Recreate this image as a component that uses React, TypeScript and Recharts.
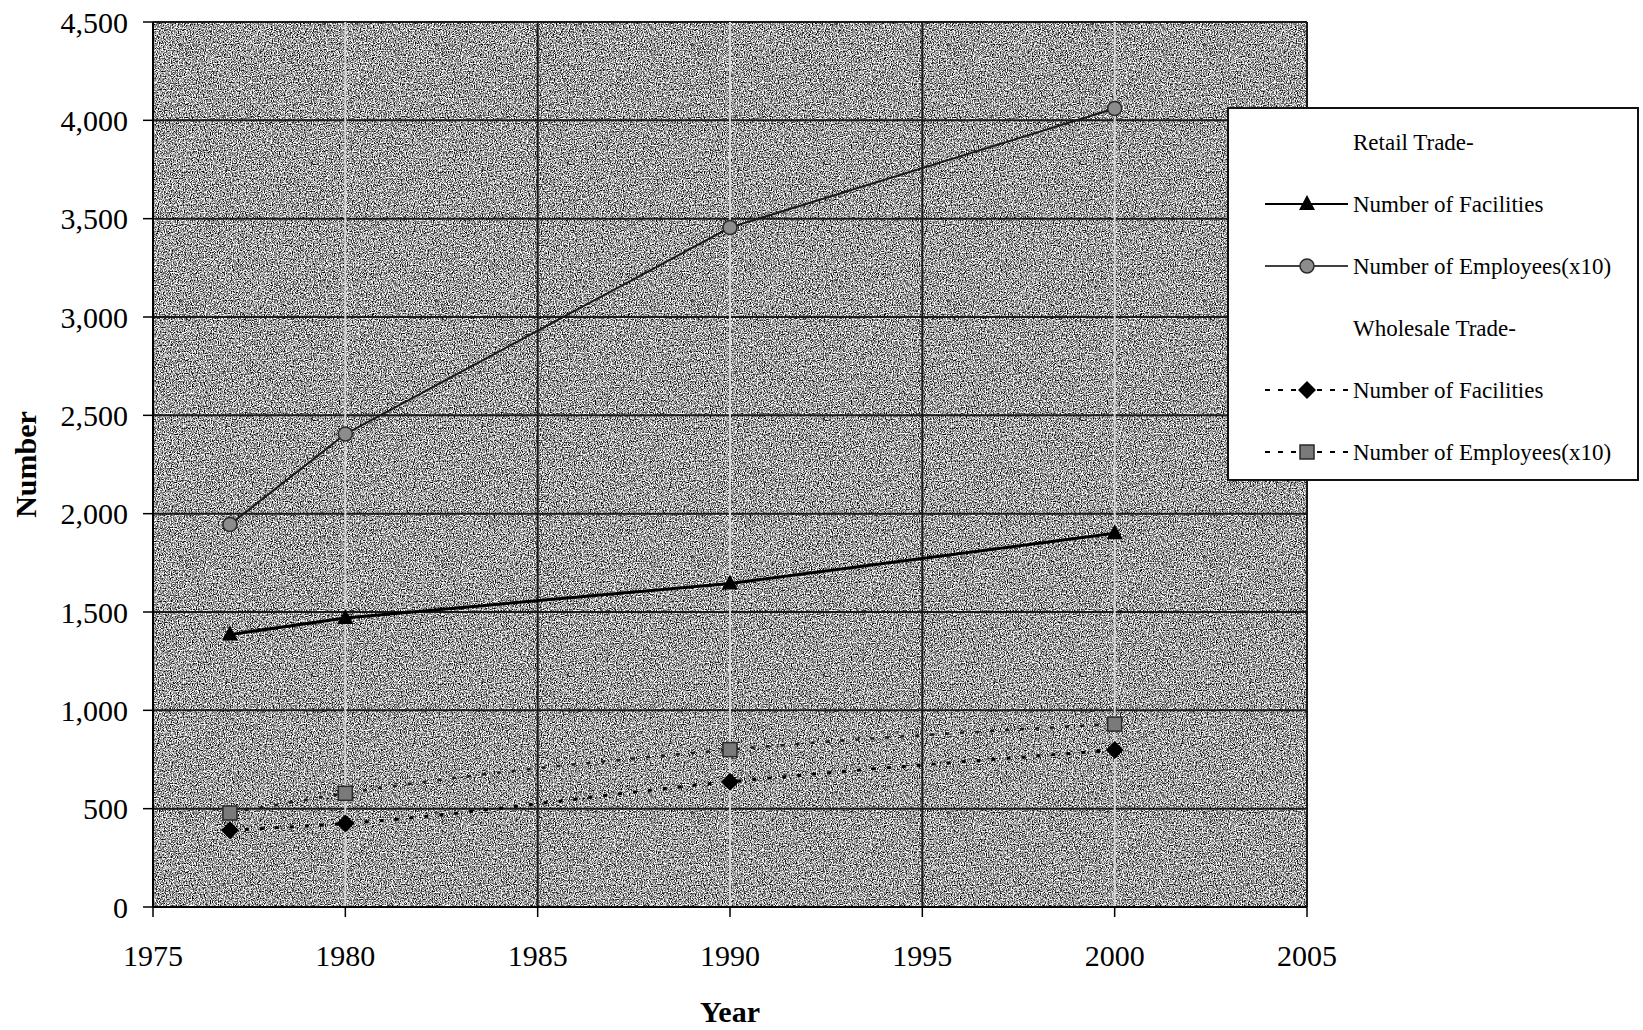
import React from "react";
import {
  LineChart,
  Line,
  XAxis,
  YAxis,
  CartesianGrid,
  ReferenceLine,
  Label,
} from "recharts";

const YEARS = [1977, 1980, 1990, 2000];
const RETAIL_FACILITIES = [1385, 1470, 1645, 1900];
const RETAIL_EMPLOYEES = [1945, 2405, 3455, 4060];
const WHOLESALE_FACILITIES = [390, 425, 637, 798];
const WHOLESALE_EMPLOYEES = [478, 578, 800, 930];

const YEAR_TICKS = [1975, 1980, 1985, 1990, 1995, 2000, 2005];
const VALUE_TICKS = [0, 500, 1000, 1500, 2000, 2500, 3000, 3500, 4000, 4500];

const rows = YEARS.map((year, i) => ({
  year,
  retailFac: RETAIL_FACILITIES[i],
  retailEmp: RETAIL_EMPLOYEES[i],
  wholeFac: WHOLESALE_FACILITIES[i],
  wholeEmp: WHOLESALE_EMPLOYEES[i],
}));

const FONT = "'Liberation Serif', 'Times New Roman', serif";

// marker shapes, shared by the lines and the legend
const triangle = (cx: number, cy: number, key?: string) => (
  <polygon key={key} points={`${cx},${cy - 9} ${cx - 8},${cy + 6} ${cx + 8},${cy + 6}`} fill="#000" />
);
const circle = (cx: number, cy: number, key?: string) => (
  <circle key={key} cx={cx} cy={cy} r={7} fill="#8c8c8c" stroke="#2a2a2a" strokeWidth={1.5} />
);
const diamond = (cx: number, cy: number, key?: string) => (
  <polygon key={key} points={`${cx},${cy - 9} ${cx + 9},${cy} ${cx},${cy + 9} ${cx - 9},${cy}`} fill="#000" />
);
const square = (cx: number, cy: number, key?: string) => (
  <rect key={key} x={cx - 7} y={cy - 7} width={14} height={14} fill="#7a7a7a" stroke="#2a2a2a" strokeWidth={1.5} />
);

const dotOf = (shape: (cx: number, cy: number, key?: string) => React.ReactElement) => (p: any) =>
  p.cx == null ? <g key={p.key} /> : shape(p.cx, p.cy, p.key ?? `${p.index}`);

const LEGEND_ROWS = [
  { label: "Retail Trade-" },
  { label: "Number of Facilities", shape: triangle, dash: undefined, width: 2 },
  { label: "Number of Employees(x10)", shape: circle, dash: undefined, width: 1.5 },
  { label: "Wholesale Trade-" },
  { label: "Number of Facilities", shape: diamond, dash: "5 8", width: 2 },
  { label: "Number of Employees(x10)", shape: square, dash: "5 8", width: 2 },
];

function LegendBox() {
  return (
    <svg width={412} height={374} style={{ position: "absolute", left: 1227, top: 107 }}>
      <rect x={1} y={1} width={410} height={372} fill="#fff" stroke="#111" strokeWidth={2} />
      {LEGEND_ROWS.map((row, i) => {
        const y = 35 + i * 62;
        return (
          <g key={i}>
            {row.shape && (
              <>
                <line
                  x1={38}
                  x2={121}
                  y1={y}
                  y2={y}
                  stroke="#000"
                  strokeWidth={row.width}
                  strokeDasharray={row.dash}
                />
                {row.shape(80, y)}
              </>
            )}
            <text x={126} y={y + 8} fontFamily={FONT} fontSize={23} fill="#000">
              {row.label}
            </text>
          </g>
        );
      })}
    </svg>
  );
}

export default function App() {
  return (
    <div style={{ position: "absolute", left: 0, top: 0, width: 1643, height: 1030, background: "#fff" }}>
      <LineChart
        width={1643}
        height={1030}
        data={rows}
        margin={{ top: 22, right: 336, bottom: 0, left: 0 }}
      >
        <defs>
          <filter id="grain" x="0" y="0" width="100%" height="100%" colorInterpolationFilters="sRGB">
            <feTurbulence type="fractalNoise" baseFrequency="0.85" numOctaves={2} seed={4} stitchTiles="stitch" />
            <feColorMatrix
              type="matrix"
              values="2.6 0 0 0 -0.68  2.6 0 0 0 -0.68  2.6 0 0 0 -0.68  0 0 0 0 1"
            />
          </filter>
          <pattern id="plotTexture" width={256} height={256} patternUnits="userSpaceOnUse">
            <rect width={256} height={256} fill="#9e9e9e" />
            <rect width={256} height={256} filter="url(#grain)" />
          </pattern>
        </defs>
        <CartesianGrid
          fill="url(#plotTexture)"
          fillOpacity={1}
          stroke="#1a1a1a"
          strokeWidth={2}
          vertical={false}
        />
        {YEAR_TICKS.map((yr) => (
          <ReferenceLine
            key={yr}
            x={yr}
            stroke={(yr - 1975) % 10 === 5 ? "#d6d6d6" : "#1a1a1a"}
            strokeWidth={2}
          />
        ))}
        <XAxis
          dataKey="year"
          type="number"
          domain={[1975, 2005]}
          ticks={YEAR_TICKS}
          height={123}
          tickSize={10}
          tickMargin={28}
          axisLine={{ stroke: "#000", strokeWidth: 2 }}
          tickLine={{ stroke: "#000", strokeWidth: 1.5 }}
          tick={{ fontSize: 30, fill: "#000", fontFamily: FONT }}
        >
          <Label
            value="Year"
            position="insideBottom"
            offset={8}
            style={{ fontSize: 30, fontWeight: "bold", fill: "#000", fontFamily: FONT }}
          />
        </XAxis>
        <YAxis
          type="number"
          domain={[0, 4500]}
          ticks={VALUE_TICKS}
          width={153}
          tickSize={10}
          tickMargin={15}
          axisLine={{ stroke: "#000", strokeWidth: 2 }}
          tickLine={{ stroke: "#000", strokeWidth: 1.5 }}
          tick={{ fontSize: 30, fill: "#000", fontFamily: FONT }}
          tickFormatter={(v: number) => v.toLocaleString("en-US")}
        >
          <Label
            content={({ viewBox }: any) => {
              const cx = viewBox.x + 25;
              const cy = viewBox.y + viewBox.height / 2;
              return (
                <text
                  x={cx}
                  y={cy}
                  transform={`rotate(-90 ${cx} ${cy})`}
                  textAnchor="middle"
                  dominantBaseline="central"
                  fontFamily={FONT}
                  fontSize={30}
                  fontWeight="bold"
                  fill="#000"
                >
                  Number
                </text>
              );
            }}
          />
        </YAxis>
        <Line
          dataKey="retailEmp"
          type="linear"
          stroke="#1a1a1a"
          strokeWidth={2}
          dot={dotOf(circle)}
          activeDot={false}
          isAnimationActive={false}
        />
        <Line
          dataKey="retailFac"
          type="linear"
          stroke="#000"
          strokeWidth={3}
          dot={dotOf(triangle)}
          activeDot={false}
          isAnimationActive={false}
        />
        <Line
          dataKey="wholeEmp"
          type="monotone"
          stroke="#1a1a1a"
          strokeWidth={2.5}
          strokeDasharray="4 11"
          dot={dotOf(square)}
          activeDot={false}
          isAnimationActive={false}
        />
        <Line
          dataKey="wholeFac"
          type="monotone"
          stroke="#000"
          strokeWidth={3}
          strokeDasharray="4 11"
          dot={dotOf(diamond)}
          activeDot={false}
          isAnimationActive={false}
        />
      </LineChart>
      <LegendBox />
    </div>
  );
}
